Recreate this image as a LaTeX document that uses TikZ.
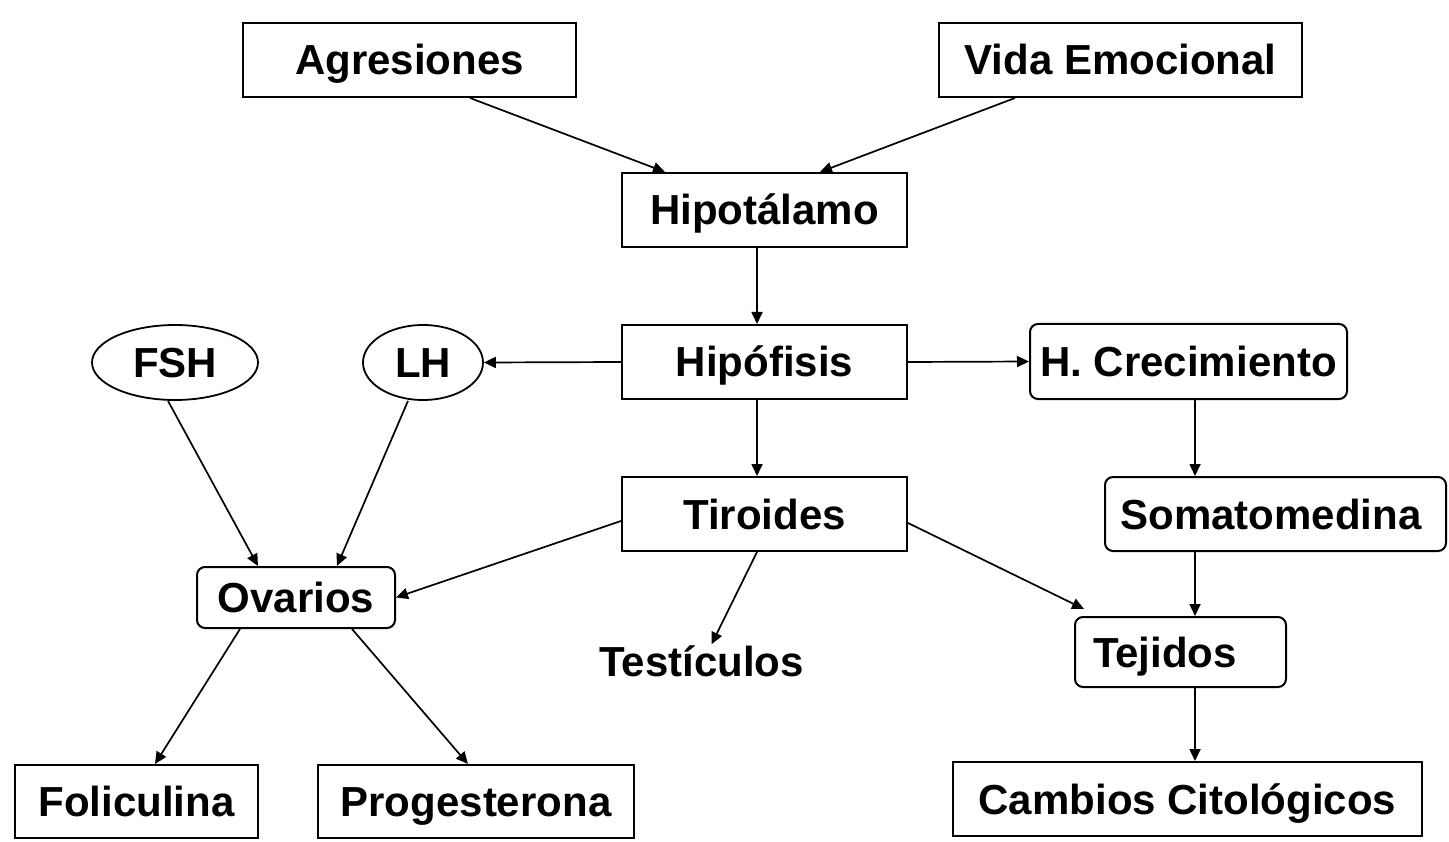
\documentclass[tikz,border=0pt]{standalone}
\usepackage{fontspec}
\setmainfont{Liberation Sans}
\usetikzlibrary{shapes.geometric,arrows.meta}
\begin{document}
\begin{tikzpicture}[x=1pt,y=-1pt,
  lbl/.style={font=\fontsize{42}{50}\selectfont\bfseries, text height=30pt, text depth=0pt, inner sep=0pt},
  sqbox/.style={lbl, draw, line width=2pt, rectangle},
  rbox/.style={lbl, draw, line width=2pt, rectangle, rounded corners=8pt},
  ell/.style={lbl, draw, line width=1.8pt, ellipse},
  conn/.style={line width=1.7pt, -{Triangle[length=12pt,width=11pt]}}]
\path[use as bounding box, fill=white] (0,0) rectangle (1449,842);

\node[sqbox, minimum width=333pt, minimum height=74pt] (agr) at (409.5,60) {Agresiones};
\node[sqbox, minimum width=363pt, minimum height=74pt] (vida) at (1120.5,60) {Vida Emocional};
\node[sqbox, minimum width=285pt, minimum height=74pt] (hipot) at (764.5,210) {Hipotálamo};
\node[sqbox, minimum width=285pt, minimum height=74pt] (hipof) at (764.5,362) {Hipófisis};
\node[sqbox, minimum width=285pt, minimum height=74pt] (tir) at (764.5,514) {Tiroides};
\node[ell, minimum width=166pt, minimum height=75pt] (fsh) at (175,362.5) {FSH};
\node[ell, minimum width=120pt, minimum height=75pt] (lh) at (423,362.5) {LH};
\node[rbox, minimum width=317pt, minimum height=75pt] (hcrec) at (1188.5,361.5) {H. Crecimiento};
\node[rbox, minimum width=341pt, minimum height=74pt, text width=310pt, align=left] (soma) at (1275.5,514) {Somatomedina};
\node[rbox, minimum width=198pt, minimum height=61pt] (ova) at (296,597.5) {Ovarios};
\node[lbl, inner sep=2pt] (test) at (701.5,661.5) {Testículos};
\node[rbox, minimum width=211pt, minimum height=70pt, text width=175pt, align=left] (tej) at (1180.5,652) {Tejidos};
\node[sqbox, minimum width=243pt, minimum height=73pt] (foli) at (136.5,801.5) {Foliculina};
\node[sqbox, minimum width=316pt, minimum height=73pt] (prog) at (476,801.5) {Progesterona};
\node[sqbox, minimum width=469pt, minimum height=74pt] (camb) at (1187.5,799) {Cambios Citológicos};

\coordinate (vx) at (1195,0);

\draw[conn] ([xshift=60.5pt]agr.south) -- ([xshift=-99.5pt]hipot.north);
\draw[conn] ([xshift=-105.5pt]vida.south) -- ([xshift=55.5pt]hipot.north);
\draw[conn] ([xshift=-7.5pt]hipot.south) -- ([xshift=-7.5pt]hipof.north);
\draw[conn] (hipof.west) -- (lh.east);
\draw[conn] (hipof.east) -- (hcrec.west);
\draw[conn] ([xshift=-7.5pt]hipof.south) -- ([xshift=-7.5pt]tir.north);
\draw[conn] ([xshift=-7pt]fsh.south) -- ([xshift=-38pt]ova.north);
\draw[conn] ([xshift=-15pt]lh.south) -- ([xshift=41pt]ova.north);
\draw[conn] ([yshift=-7pt]tir.west) -- (ova.east);
\draw[conn] ([xshift=-7.5pt]tir.south) -- ([xshift=10pt]test.north);
\draw[conn] ([yshift=-9pt]tir.east) -- ([xshift=10pt,yshift=7pt]tej.north west);
\draw[conn] (hcrec.south -| vx) -- (soma.north -| vx);
\draw[conn] (soma.south -| vx) -- (tej.north -| vx);
\draw[conn] (tej.south -| vx) -- (camb.north -| vx);
\draw[conn] ([xshift=-56pt]ova.south) -- ([xshift=18.5pt]foli.north);
\draw[conn] ([xshift=56pt]ova.south) -- ([xshift=-8pt]prog.north);
\end{tikzpicture}
\end{document}
